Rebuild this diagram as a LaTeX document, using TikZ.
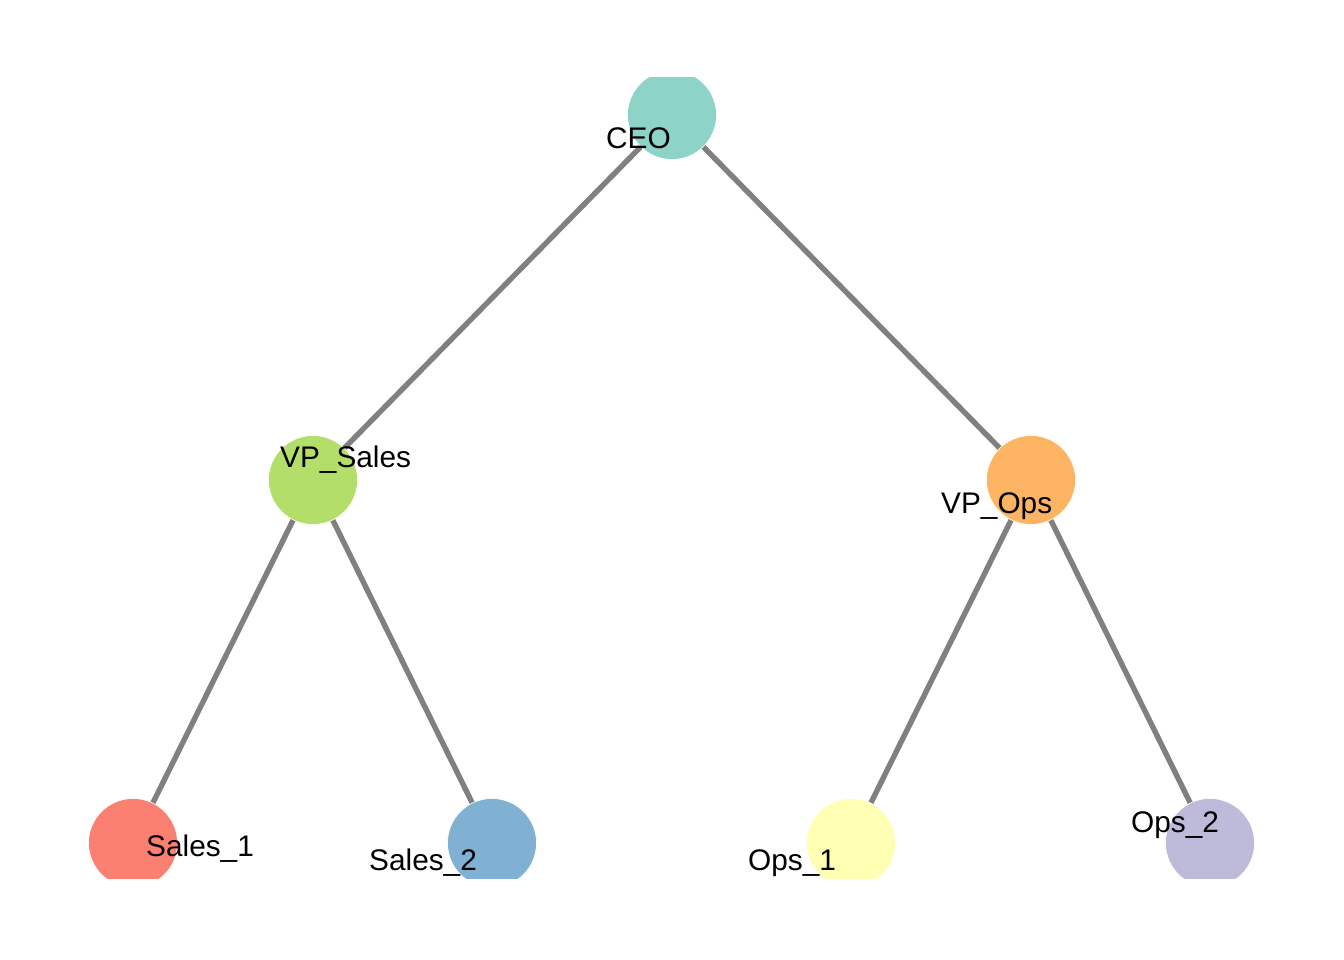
\documentclass[tikz,border=0pt]{standalone}
\usepackage{fontspec}
\setmainfont{Liberation Sans}
\usetikzlibrary{backgrounds}
\definecolor{cceo}{HTML}{8DD3C7}
\definecolor{cvps}{HTML}{B3DE69}
\definecolor{cvpo}{HTML}{FDB462}
\definecolor{cs1}{HTML}{FB8072}
\definecolor{cs2}{HTML}{80B1D3}
\definecolor{co1}{HTML}{FFFFB3}
\definecolor{co2}{HTML}{BEBADA}
\definecolor{edgegray}{HTML}{808080}
\tikzset{
  vert/.style={circle, minimum size=89pt, inner sep=0pt, draw=white, line width=0.6pt},
  lab/.style={anchor=base west, inner sep=0pt, font=\fontsize{29.8pt}{32pt}\selectfont},
  link/.style={draw=edgegray, line width=5.4pt}
}
\begin{document}
\begin{tikzpicture}[x=1pt,y=-1pt]
\useasboundingbox (0,0) rectangle (1344,960);
\begin{scope}
\clip (0,78) rectangle (1344,878);
\node[vert, fill=cceo] (ceo) at (672,115) {};
\node[vert, fill=cvps] (vps) at (313,480) {};
\node[vert, fill=cvpo] (vpo) at (1031,480) {};
\node[vert, fill=cs1] (s1) at (133,843) {};
\node[vert, fill=cs2] (s2) at (492,843) {};
\node[vert, fill=co1] (o1) at (851,843) {};
\node[vert, fill=co2] (o2) at (1210,843) {};
\begin{pgfonlayer}{background}
\draw[link] (ceo.center) -- (vps.center);
\draw[link] (ceo.center) -- (vpo.center);
\draw[link] (vps.center) -- (s1.center);
\draw[link] (vps.center) -- (s2.center);
\draw[link] (vpo.center) -- (o1.center);
\draw[link] (vpo.center) -- (o2.center);
\end{pgfonlayer}
\end{scope}
\node[lab] (tceo) at (606,149) {CEO};
\node[lab] (tvps) at (280,467) {VP\_Sales};
\node[lab] (tvpo) at (941,513) {VP\_Ops};
\node[lab] (ts1) at (146,856) {Sales\_1};
\node[lab] (ts2) at (369,870) {Sales\_2};
\node[lab] (to1) at (748,870) {Ops\_1};
\node[lab] (to2) at (1131,832) {Ops\_2};
\end{tikzpicture}
\end{document}
